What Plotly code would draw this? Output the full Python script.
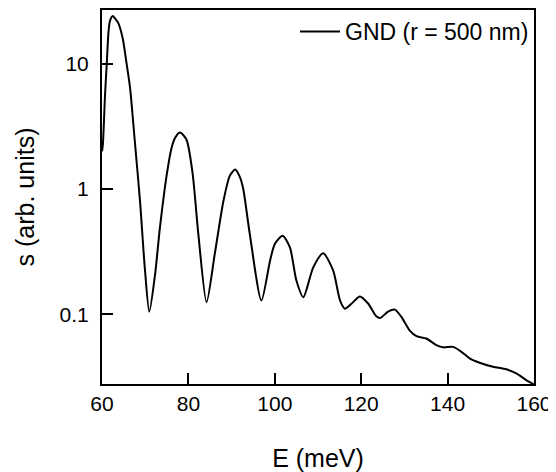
import plotly.graph_objects as go

# %% DATA
energy_mev = [
    60.0, 60.2, 60.7, 61.1, 61.5, 61.85, 62.5, 63.0, 63.8, 64.8, 65.7, 66.5, 67.6, 68.8,
    69.9, 70.95, 72.3, 73.4, 75.0, 76.1, 76.9, 78.0, 79.2, 79.7, 81.0, 82.3, 84.2, 86.1,
    88.1, 89.6, 90.8, 91.9, 92.7, 94.2, 96.9, 98.9, 100.0, 101.8, 103.5, 105.0, 106.6,
    108.9, 111.2, 113.5, 115.1, 116.2, 117.8, 119.7, 121.6, 123.5, 124.4, 126.2, 127.8,
    129.3, 131.2, 132.8, 135.1, 137.4, 139.0, 141.3, 143.2, 145.1, 147.4, 150.5, 153.6,
    155.9, 158.2, 160.0,
]
signal = [
    2.0, 2.26, 5.6, 10.0, 17.9, 22.0, 24.0, 23.0, 21.0, 15.9, 10.0, 6.4, 2.4, 0.80,
    0.237, 0.105, 0.21, 0.49, 1.31, 2.13, 2.55, 2.83, 2.6, 2.4, 1.31, 0.437, 0.125, 0.303,
    0.80, 1.28, 1.43, 1.25, 1.0, 0.44, 0.129, 0.268, 0.364, 0.424, 0.342, 0.186, 0.137,
    0.237, 0.307, 0.224, 0.129, 0.111, 0.122, 0.139, 0.122, 0.0964, 0.0935, 0.105, 0.109,
    0.0953, 0.0746, 0.0669, 0.0641, 0.0568, 0.0545, 0.055, 0.0502, 0.0445, 0.0411, 0.0382, 0.0364,
    0.0338, 0.0299, 0.0276,
]
legend_name = "GND (r = 500 nm)"
y_tick_vals = [0.1, 1, 10]
y_tick_text = ["0.1", "1", "10"]
x_tick_vals = [60, 80, 100, 120, 140, 160]

FONT = "Liberation Sans, Arial, sans-serif"

# %% FIGURE
fig = go.Figure()
fig.add_trace(
    go.Scatter(
        name=legend_name,
        x=energy_mev,
        y=signal,
        mode="lines",
        line=dict(color="black", width=2, shape="spline", smoothing=0.7),
        showlegend=True,
    )
)

axis_common = dict(
    showline=True,
    linecolor="black",
    linewidth=2,
    mirror=True,
    ticks="inside",
    ticklen=11,
    tickwidth=2,
    tickcolor="black",
    showgrid=False,
    zeroline=False,
    tickfont=dict(family=FONT, size=21, color="black"),
)

# the page body adds an 8px offset, so the figure is drawn 8px smaller
fig.update_layout(
    width=548,
    height=464,
    margin=dict(l=94, r=22, t=0, b=88),
    paper_bgcolor="white",
    plot_bgcolor="white",
    font=dict(family=FONT, size=21, color="black"),
    xaxis=dict(
        range=[60, 160],
        tickvals=x_tick_vals,
        title=dict(text="E (meV)", font=dict(family=FONT, size=25), standoff=36),
        **axis_common,
    ),
    yaxis=dict(
        type="log",
        range=[-1.556, 1.429],
        tickvals=y_tick_vals,
        ticktext=y_tick_text,
        ticklabelstandoff=7,
        title=dict(text="s (arb. units)", font=dict(family=FONT, size=25), standoff=18),
        **axis_common,
    ),
    legend=dict(
        x=1.0,
        y=1,
        xanchor="right",
        yanchor="top",
        bgcolor="rgba(0,0,0,0)",
        font=dict(family=FONT, size=23, color="black"),
        itemwidth=40,
    ),
)

fig.write_html("out.html")
